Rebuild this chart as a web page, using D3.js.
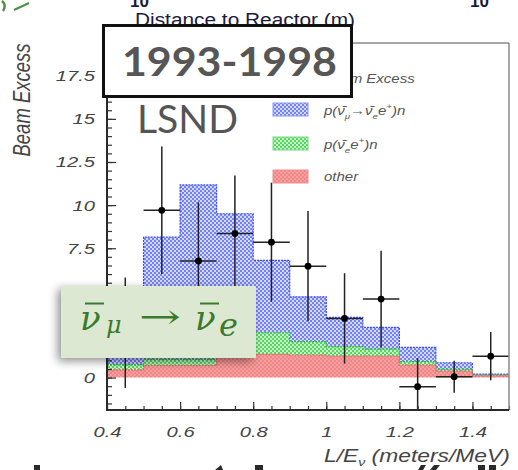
<!DOCTYPE html>
<html>
<head>
<meta charset="utf-8">
<script src="https://cdn.jsdelivr.net/npm/d3@7"></script>
<style>
  html, body { margin: 0; padding: 0; background: #fff; }
  svg { display: block; }
</style>
</head>
<body>
<svg id="chart" width="518" height="470"></svg>
<script>
// ---- data -------------------------------------------------------------
// Lower edges of the L/E bins (meters/MeV), each 0.1 wide
const binLow   = [0.4, 0.5, 0.6, 0.7, 0.8, 0.9, 1.0, 1.1, 1.2, 1.3, 1.4];
const binWidth = 0.1;
// Expected contributions per bin (stacked from the bottom)
const otherBg   = [0.45, 0.70, 0.70, 1.35, 1.35, 1.30, 1.25, 1.25, 0.72, 0.38, 0.10];
const nueBg     = [0.30, 0.35, 0.35, 1.25, 1.25, 0.78, 0.55, 0.40, 0.20, 0.10, 0.05];
const oscSignal = [1.05, 7.09, 10.12, 6.90, 4.20, 2.60, 1.69, 1.26, 0.83, 0.38, 0.05];
// Measured beam excess (bin centres, value, 1-sigma error)
const pointLE     = [0.45, 0.55, 0.65, 0.75, 0.85, 0.95, 1.05, 1.15, 1.25, 1.35, 1.45];
const pointExcess = [2.6, 9.7, 6.76, 8.35, 7.85, 6.46, 3.43, 4.55, -0.53, 0.05, 1.24];
const pointError  = [3.2, 3.7, 3.4, 3.37, 3.45, 3.2, 2.62, 2.8, 1.66, 0.93, 1.4];
// Axis ticks
const yTickValues = [0, 2.5, 5, 7.5, 10, 12.5, 15, 17.5];
const yTickLabels = ["0", "2.5", "5", "7.5", "10", "12.5", "15", "17.5"];
const xTickValues = [0.4, 0.6, 0.8, 1, 1.2, 1.4];
const xTickLabels = ["0.4", "0.6", "0.8", "1", "1.2", "1.4"];

// ---- layout -----------------------------------------------------------
const svg = d3.select("#chart");
const W = 518, H = 470;
const plot = { left: 107, right: 509, top: 43, bottom: 410 };
const WIDEN = 1.3;   // the plot's lettering is drawn horizontally widened

const x = d3.scaleLinear().domain([0.4, 1.5]).range([plot.left, plot.right]);
const y = d3.scaleLinear().domain([-1.88, 19.4]).range([plot.bottom, plot.top]);

// stretch a text element's glyphs horizontally while keeping its anchor
function widen(sel, k) {
  sel.each(function () {
    const len = this.getComputedTextLength();
    d3.select(this).attr("textLength", len * k).attr("lengthAdjust", "spacingAndGlyphs");
  });
}

svg.append("rect").attr("width", W).attr("height", H).attr("fill", "#fff");

const defs = svg.append("defs");
function checker(id, dark, light) {
  const p = defs.append("pattern").attr("id", id)
    .attr("width", 4).attr("height", 4).attr("patternUnits", "userSpaceOnUse");
  p.append("rect").attr("width", 4).attr("height", 4).attr("fill", dark);
  p.append("rect").attr("width", 2).attr("height", 2).attr("fill", light);
  p.append("rect").attr("x", 2).attr("y", 2).attr("width", 2).attr("height", 2).attr("fill", light);
}
checker("fillOsc", "#7482f6", "#d3d8fd");
checker("fillNue", "#55d85f", "#c9f4cb");
checker("fillOther", "#f28585", "#f5a0a0");

defs.append("clipPath").attr("id", "plotClip")
  .append("rect").attr("x", plot.left).attr("y", plot.top)
  .attr("width", plot.right - plot.left).attr("height", plot.bottom - plot.top);

const shadow = defs.append("filter").attr("id", "boxShadow")
  .attr("x", "-30%").attr("y", "-40%").attr("width", "160%").attr("height", "180%");
shadow.append("feDropShadow").attr("dx", -3).attr("dy", 3).attr("stdDeviation", 5)
  .attr("flood-color", "#000").attr("flood-opacity", 0.45);

// ---- fragments of surrounding slide content ---------------------------
svg.append("path").attr("d", "M2,1 Q7,5 3,11").attr("fill", "none")
  .attr("stroke", "#4f8f45").attr("stroke-width", 2.5);
svg.append("path").attr("d", "M14,10 L29,3").attr("fill", "none")
  .attr("stroke", "#4f8f45").attr("stroke-width", 2);
svg.append("text").attr("x", 130).attr("y", 7).text("10")
  .attr("font-family", "Liberation Sans, Arial, sans-serif").attr("font-weight", "bold")
  .attr("font-size", 17).attr("fill", "#1c1c3a");
svg.append("text").attr("x", 470).attr("y", 7).text("10")
  .attr("font-family", "Liberation Sans, Arial, sans-serif").attr("font-weight", "bold")
  .attr("font-size", 17).attr("fill", "#1c1c3a");
svg.append("text").attr("x", 135).attr("y", 26).text("Distance to Reactor (m)")
  .attr("font-family", "Liberation Sans, Arial, sans-serif")
  .attr("font-size", 18).attr("textLength", 220).attr("lengthAdjust", "spacingAndGlyphs")
  .attr("fill", "#1c1c3a");

// ---- stacked histogram ------------------------------------------------
const stackRows = binLow.map((lo, i) => ({ lo, other: otherBg[i], nue: nueBg[i], osc: oscSignal[i] }));
const layers = d3.stack().keys(["other", "nue", "osc"])(stackRows);
const layerStyle = {
  other: { fill: "url(#fillOther)", stroke: "#e46060" },
  nue:   { fill: "url(#fillNue)",   stroke: "#33bb3e" },
  osc:   { fill: "url(#fillOsc)",   stroke: "#3b4ef0" }
};

const gPlot = svg.append("g").attr("clip-path", "url(#plotClip)");

const area = d3.area().curve(d3.curveStepAfter)
  .x(d => x(d.x)).y0(d => y(d.y0)).y1(d => y(d.y1));
const topLine = d3.line().curve(d3.curveStepAfter)
  .x(d => x(d.x)).y(d => y(d.y1));

layers.slice().reverse().forEach(layer => {
  const pts = layer.map(d => ({ x: d.data.lo, y0: d[0], y1: d[1] }));
  const last = pts[pts.length - 1];
  pts.push({ x: last.x + binWidth, y0: last.y0, y1: last.y1 });
  const st = layerStyle[layer.key];
  gPlot.append("path").attr("d", area(pts)).attr("fill", st.fill);
  gPlot.append("path").attr("d", topLine(pts)).attr("fill", "none")
    .attr("stroke", st.stroke).attr("stroke-width", 1.2).attr("stroke-dasharray", "2,1");
});

// ---- data points with error bars --------------------------------------
const gPts = gPlot.append("g");
pointLE.forEach((c, i) => {
  const v = pointExcess[i], e = pointError[i];
  gPts.append("line").attr("x1", x(c)).attr("x2", x(c))
    .attr("y1", y(v - e)).attr("y2", y(v + e))
    .attr("stroke", "#222").attr("stroke-width", 1.5);
  gPts.append("line").attr("x1", x(c - binWidth / 2)).attr("x2", x(c + binWidth / 2))
    .attr("y1", y(v)).attr("y2", y(v))
    .attr("stroke", "#222").attr("stroke-width", 1.5);
  gPts.append("circle").attr("cx", x(c)).attr("cy", y(v)).attr("r", 3.4).attr("fill", "#000");
});

// ---- axes ---------------------------------------------------------------
const tickFont = "Liberation Sans, Arial, Helvetica, sans-serif";

const gx = svg.append("g").attr("transform", `translate(0,${plot.bottom})`);
gx.call(d3.axisBottom(x).tickValues(d3.range(0.4, 1.5001, 0.05)).tickFormat("")
  .tickSizeInner(-4).tickSizeOuter(0));
const gx2 = svg.append("g").attr("transform", `translate(0,${plot.bottom})`);
gx2.call(d3.axisBottom(x).tickValues(xTickValues).tickFormat((d, i) => xTickLabels[i])
  .tickSizeInner(-8).tickSizeOuter(0).tickPadding(16));

const gy = svg.append("g").attr("transform", `translate(${plot.left},0)`);
gy.call(d3.axisLeft(y).tickValues(d3.range(-1.5, 19.01, 0.5)).tickFormat("")
  .tickSizeInner(-5).tickSizeOuter(0));
const gy2 = svg.append("g").attr("transform", `translate(${plot.left},0)`);
gy2.call(d3.axisLeft(y).tickValues(yTickValues).tickFormat((d, i) => yTickLabels[i])
  .tickSizeInner(-9).tickSizeOuter(0).tickPadding(12));

[gx, gx2, gy, gy2].forEach(g => {
  g.select(".domain").remove();
  g.selectAll(".tick line").attr("stroke", "#333").attr("stroke-width", 1.2);
  g.selectAll(".tick text").attr("font-family", tickFont).attr("font-style", "italic")
    .attr("font-size", 15.5).attr("fill", "#444");
});
widen(gx2.selectAll(".tick text"), WIDEN);
widen(gy2.selectAll(".tick text"), WIDEN);

// frame
svg.append("line").attr("x1", plot.left).attr("x2", plot.right).attr("y1", plot.top).attr("y2", plot.top)
  .attr("stroke", "#8a8a8a").attr("stroke-width", 1.5);
svg.append("line").attr("x1", plot.right).attr("x2", plot.right).attr("y1", plot.top).attr("y2", plot.bottom)
  .attr("stroke", "#8a8a8a").attr("stroke-width", 1.5);
svg.append("line").attr("x1", plot.left).attr("x2", plot.left).attr("y1", plot.top).attr("y2", plot.bottom + 1)
  .attr("stroke", "#2a2a2a").attr("stroke-width", 2);
svg.append("line").attr("x1", plot.left - 1).attr("x2", plot.right).attr("y1", plot.bottom).attr("y2", plot.bottom)
  .attr("stroke", "#2a2a2a").attr("stroke-width", 2);

// axis titles
svg.append("text").attr("transform", `translate(30,100) scale(${WIDEN},1) rotate(-90)`)
  .attr("text-anchor", "middle").attr("font-family", tickFont).attr("font-style", "italic")
  .attr("font-size", 18.5).attr("fill", "#444").text("Beam Excess");

// x title: natural-size text, then widened to span its slot
const xTitleG = svg.append("g");
const xTitle = xTitleG.append("text").attr("x", 0).attr("y", 0)
  .attr("font-family", tickFont).attr("font-style", "italic").attr("font-size", 18).attr("fill", "#444");
xTitle.append("tspan").text("L/E");
xTitle.append("tspan").attr("dy", 4).attr("font-size", 11).text("ν");
xTitle.append("tspan").attr("dy", -4).text(" (meters/MeV)");
const xTitleW = xTitle.node().getBBox().width;
const xTitleRight = 510, xTitleSpan = 186;
xTitleG.attr("transform",
  `translate(${xTitleRight - xTitleSpan},462) scale(${xTitleSpan / xTitleW},1)`);

// ---- legend -------------------------------------------------------------
const legend = svg.append("g").attr("font-family", tickFont).attr("font-style", "italic")
  .attr("font-size", 12.5).attr("fill", "#555");
// beam excess marker
legend.append("line").attr("x1", 273).attr("x2", 308).attr("y1", 78).attr("y2", 78)
  .attr("stroke", "#222").attr("stroke-width", 1.5);
legend.append("line").attr("x1", 290.5).attr("x2", 290.5).attr("y1", 70).attr("y2", 86)
  .attr("stroke", "#222").attr("stroke-width", 1.5);
legend.append("circle").attr("cx", 290.5).attr("cy", 78).attr("r", 3.4).attr("fill", "#000");
const lt0 = legend.append("text").attr("x", 323).attr("y", 83).text("Beam Excess");

const swatches = [
  { y: 103, fill: "url(#fillOsc)", stroke: "#8b95f0" },
  { y: 137, fill: "url(#fillNue)", stroke: "#7bd683" },
  { y: 170, fill: "url(#fillOther)", stroke: "#e89090" }
];
swatches.forEach(s => {
  legend.append("rect").attr("x", 273).attr("y", s.y).attr("width", 35).attr("height", 13)
    .attr("fill", s.fill).attr("stroke", s.stroke).attr("stroke-width", 1);
});
const t1 = legend.append("text").attr("x", 324).attr("y", 115);
t1.append("tspan").text("p(ν\u0304");
t1.append("tspan").attr("dy", 4).attr("font-size", 8).text("μ");
t1.append("tspan").attr("dy", -4).text("→ν\u0304");
t1.append("tspan").attr("dy", 4).attr("font-size", 8).text("e");
t1.append("tspan").attr("dy", -4).text("e");
t1.append("tspan").attr("dy", -6).attr("font-size", 8).text("+");
t1.append("tspan").attr("dy", 6).text(")n");
const t2 = legend.append("text").attr("x", 324).attr("y", 149);
t2.append("tspan").text("p(ν\u0304");
t2.append("tspan").attr("dy", 4).attr("font-size", 8).text("e");
t2.append("tspan").attr("dy", -4).text("e");
t2.append("tspan").attr("dy", -6).attr("font-size", 8).text("+");
t2.append("tspan").attr("dy", 6).text(")n");
const t3 = legend.append("text").attr("x", 324).attr("y", 181).text("other");
[lt0, t1, t2, t3].forEach(t => widen(t, 1.2));

// ---- overlaid annotations -------------------------------------------------
svg.append("rect").attr("x", 103.5).attr("y", 25.5).attr("width", 248).attr("height", 71)
  .attr("fill", "#fff").attr("stroke", "#111").attr("stroke-width", 3);
svg.append("text").attr("x", 229.5).attr("y", 76).attr("text-anchor", "middle")
  .attr("font-family", "Lato, 'Open Sans', sans-serif").attr("font-weight", "bold")
  .attr("font-size", 40).attr("fill", "#565656")
  .attr("textLength", 215).attr("lengthAdjust", "spacingAndGlyphs").text("1993-1998");
svg.append("text").attr("x", 137).attr("y", 133)
  .attr("font-family", "Lato, 'Open Sans', sans-serif")
  .attr("font-size", 38).attr("fill", "#555")
  .attr("textLength", 101).attr("lengthAdjust", "spacingAndGlyphs").text("LSND");

// oscillation channel label
svg.append("rect").attr("x", 61).attr("y", 286).attr("width", 195).attr("height", 72)
  .attr("fill", "#dde8d3").attr("filter", "url(#boxShadow)");
const green = "#3a7a2c";
const chan = svg.append("g").attr("fill", green).attr("font-family", "'DejaVu Serif', serif");
chan.append("text").attr("x", 80).attr("y", 330).attr("font-style", "italic").attr("font-size", 34).text("ν");
chan.append("line").attr("x1", 85).attr("x2", 104).attr("y1", 303.5).attr("y2", 303.5)
  .attr("stroke", green).attr("stroke-width", 2);
chan.append("text").attr("x", 106).attr("y", 333).attr("font-style", "italic").attr("font-size", 24).text("μ");
chan.append("text").attr("x", 139).attr("y", 328).attr("font-size", 34)
  .attr("textLength", 42).attr("lengthAdjust", "spacingAndGlyphs").text("→");
chan.append("text").attr("x", 195).attr("y", 330).attr("font-style", "italic").attr("font-size", 34).text("ν");
chan.append("line").attr("x1", 200).attr("x2", 219).attr("y1", 303.5).attr("y2", 303.5)
  .attr("stroke", green).attr("stroke-width", 2);
chan.append("text").attr("x", 219).attr("y", 336).attr("font-style", "italic").attr("font-size", 32).text("e");

// bits of the next text line peeking in at the bottom edge
const frag = svg.append("g").attr("fill", "#2a2a2a");
frag.append("rect").attr("x", 34).attr("y", 465).attr("width", 6).attr("height", 5);
frag.append("path").attr("d", "M221,465 L223,470 L215,470 Z");
frag.append("rect").attr("x", 255).attr("y", 465).attr("width", 8).attr("height", 5);
frag.append("path").attr("d", "M421,465 L426,465 L423,470 L418,470 Z");
frag.append("path").attr("d", "M434,465 L440,465 L436,470 L430,470 Z");
frag.append("rect").attr("x", 478).attr("y", 465).attr("width", 7).attr("height", 5);
frag.append("rect").attr("x", 489).attr("y", 465).attr("width", 7).attr("height", 5);
</script>
</body>
</html>
